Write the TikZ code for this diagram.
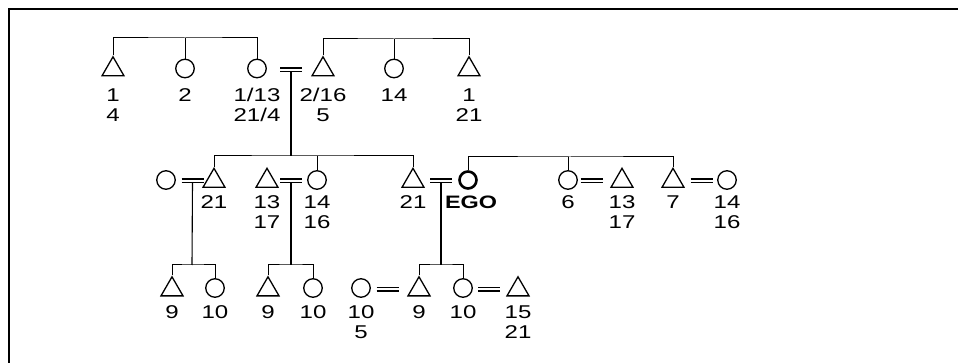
\documentclass[tikz,border=0pt]{standalone}
\usepackage{fontspec}
\setmainfont{Liberation Sans}[FakeStretch=1.3]
\usetikzlibrary{shapes.geometric}
\begin{document}
\begin{tikzpicture}[x=1pt,y=-1pt,
  male/.style={draw, regular polygon, regular polygon sides=3, minimum size=25.4pt, inner sep=0pt, line width=1.3pt},
  female/.style={draw, circle, minimum size=18.5pt, inner sep=0pt, line width=1.3pt},
  egonode/.style={female, line width=2.6pt, minimum size=17pt},
  kin/.style={line width=1pt},
  descent/.style={line width=2pt},
  thindescent/.style={line width=1.1pt},
  wed/.style={line width=1.6pt},
  lbl/.style={anchor=base, inner sep=0pt, font=\fontsize{18.5}{18.5}\selectfont},
  frame/.style={line width=2pt},
]
\useasboundingbox (0,0) rectangle (958,363);

% outer frame (top and left edges)
\coordinate (fbl) at (9,363);
\coordinate (ftl) at (9,9.5);
\coordinate (ftr) at (958,9.5);
\draw[frame] (fbl) -- (ftl) -- (ftr);

% ---------- generation 1 ----------
\node[male]   (p11) at (113,69.5) {};
\node[female] (p12) at (185,68.5) {};
\node[female] (p13) at (257,68.5) {};
\node[male]   (p14) at (323,69.5) {};
\node[female] (p15) at (394,68.5) {};
\node[male]   (p16) at (469,69.5) {};

\node[lbl] (l11a) at (113,102) {1};
\node[lbl] (l11b) at (113,122) {4};
\node[lbl] (l12a) at (185,102) {2};
\node[lbl] (l13a) at (257,102) {1/13};
\node[lbl] (l13b) at (257,122) {21/4};
\node[lbl] (l14a) at (323,102) {2/16};
\node[lbl] (l14b) at (323,122) {5};
\node[lbl] (l15a) at (394,102) {14};
\node[lbl] (l16a) at (469,102) {1};
\node[lbl] (l16b) at (469,122) {21};

\coordinate (s0a) at (185,38);
\draw[kin] (p11.north) |- (s0a) -| (p13.north);
\draw[kin] (p12.north) -- (p12.north |- s0a);
\coordinate (s0b) at (394,39);
\draw[kin] (p14.north) |- (s0b) -| (p16.north);
\draw[kin] (p15.north) -- (p15.north |- s0b);

% ---------- generation 2 ----------
\node[female]  (p21) at (166,180) {};
\node[male]    (p22) at (214,181) {};
\node[male]    (p23) at (267,181) {};
\node[female]  (p24) at (317,180) {};
\node[male]    (p25) at (413,181) {};
\node[egonode] (ego) at (468,180) {};
\node[female]  (p27) at (568,180) {};
\node[male]    (p28) at (622,181) {};
\node[male]    (p29) at (673,181) {};
\node[female]  (p2a) at (727,180) {};

\node[lbl] (l22a) at (214,209) {21};
\node[lbl] (l23a) at (267,209) {13};
\node[lbl] (l23b) at (267,229) {17};
\node[lbl] (l24a) at (317,209) {14};
\node[lbl] (l24b) at (317,229) {16};
\node[lbl] (l25a) at (413,209) {21};
\node[lbl,font=\fontsize{18}{18}\selectfont\bfseries] (lego) at (471,209) {EGO};
\node[lbl] (l27a) at (568,209) {6};
\node[lbl] (l28a) at (622,209) {13};
\node[lbl] (l28b) at (622,229) {17};
\node[lbl] (l29a) at (673,209) {7};
\node[lbl] (l2aa) at (727,209) {14};
\node[lbl] (l2ab) at (727,229) {16};

\coordinate (s1) at (291,156);
\draw[kin] (p22.north) |- (s1) -| (p25.north);
\draw[kin] (p24.north) -- (p24.north |- s1);
\coordinate (s2) at (570,157);
\draw[kin] (ego.north) |- (s2) -| (p29.north);
\draw[kin] (p27.north) -- (p27.north |- s2);

% ---------- generation 3 ----------
\node[male]   (p31) at (172,289.5) {};
\node[female] (p32) at (215,288) {};
\node[male]   (p33) at (268,289.5) {};
\node[female] (p34) at (313,288) {};
\node[female] (p35) at (361,288) {};
\node[male]   (p36) at (419,289.5) {};
\node[female] (p37) at (463,288) {};
\node[male]   (p38) at (518,289.5) {};

\node[lbl] (l31a) at (172,318) {9};
\node[lbl] (l32a) at (215,318) {10};
\node[lbl] (l33a) at (268,318) {9};
\node[lbl] (l34a) at (313,318) {10};
\node[lbl] (l35a) at (361,318) {10};
\node[lbl] (l35b) at (361,338) {5};
\node[lbl] (l36a) at (419,318) {9};
\node[lbl] (l37a) at (463,318) {10};
\node[lbl] (l38a) at (518,318) {15};
\node[lbl] (l38b) at (518,338) {21};

\coordinate (s3a) at (192,265);
\draw[kin] (p31.north) |- (s3a) -| (p32.north);
\coordinate (s3b) at (291,265);
\draw[kin] (p33.north) |- (s3b) -| (p34.north);
\coordinate (s3c) at (441,265);
\draw[kin] (p36.north) |- (s3c) -| (p37.north);

% ---------- marriages ----------
\coordinate (m1)  at (291,69);
\coordinate (m21) at (192.5,180);
\coordinate (m22) at (291,180);
\coordinate (m23) at (441,180);
\coordinate (m24) at (591.5,180);
\coordinate (m25) at (701.5,180);
\coordinate (m31) at (387.5,288.5);
\coordinate (m32) at (489,288.5);
\foreach \m in {m1,m21,m22,m23,m24,m25,m31,m32}{
  \draw[wed] ([shift={(-11pt,1pt)}]\m) -- ([shift={(11pt,1pt)}]\m);
  \draw[wed] ([shift={(-11pt,-2.5pt)}]\m) -- ([shift={(11pt,-2.5pt)}]\m);
}

% ---------- lines of descent ----------
\draw[descent] ([yshift=-2.5pt]m1) -- (s1);
\draw[thindescent] ([yshift=-2.5pt]m21) -- (s3a);
\draw[descent] ([yshift=-2.5pt]m22) -- (s3b);
\draw[descent] ([yshift=-2.5pt]m23) -- (s3c);
\end{tikzpicture}
\end{document}
